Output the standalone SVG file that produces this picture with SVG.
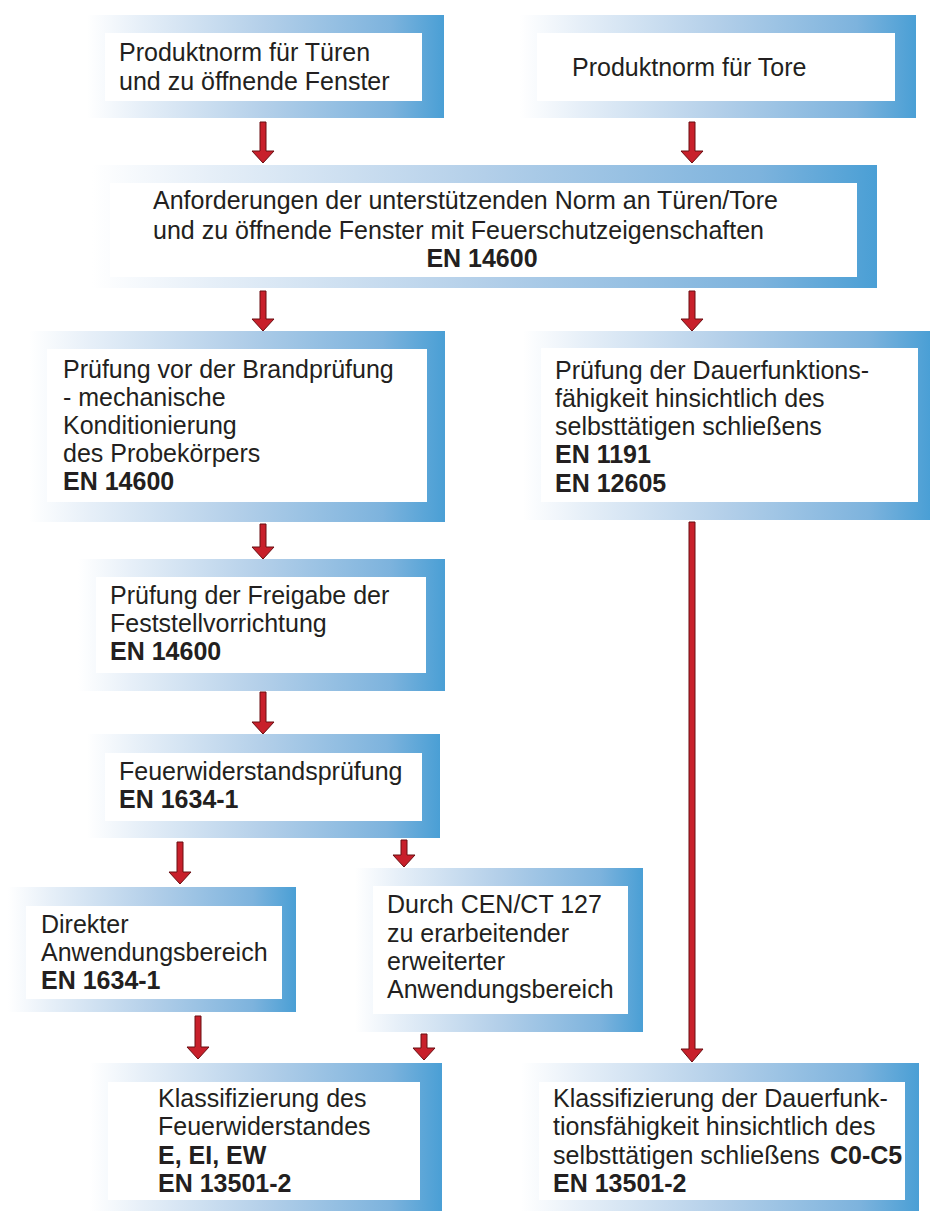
<svg xmlns="http://www.w3.org/2000/svg" width="930" height="1211" viewBox="0 0 930 1211">
<defs>
<linearGradient id="fr" x1="0" y1="0" x2="1" y2="0">
<stop offset="0" stop-color="#ffffff"/>
<stop offset="0.15" stop-color="#e6eff8"/>
<stop offset="0.5" stop-color="#b3cfe9"/>
<stop offset="0.85" stop-color="#7db3dd"/>
<stop offset="1" stop-color="#4a9fd5"/>
</linearGradient>
</defs>
<style>
.o{fill:url(#fr)}
.i{fill:#ffffff}
text{font-family:"Liberation Sans",Arial,sans-serif;font-size:25px;fill:#231f20}
.b{font-weight:700}
.ar{fill:#c8202b;stroke:#6a0e12;stroke-width:1}
</style>
<rect width="930" height="1211" fill="#ffffff"/>
<g id="n1">
<rect class="o" x="87" y="15" width="357" height="103"/>
<rect class="i" x="105" y="33" width="317" height="68"/>
<text x="119" y="61">Produktnorm für Türen</text>
<text x="119" y="90">und zu öffnende Fenster</text>
</g>
<g id="n2">
<rect class="o" x="520" y="15" width="396" height="103"/>
<rect class="i" x="537" y="33" width="358" height="68"/>
<text x="572" y="76">Produktnorm für Tore</text>
</g>
<g id="n3">
<rect class="o" x="92" y="165" width="785" height="123"/>
<rect class="i" x="110" y="183" width="747" height="94"/>
<text x="153" y="209">Anforderungen der unterstützenden Norm an Türen/Tore</text>
<text x="153" y="239">und zu öffnende Fenster mit Feuerschutzeigenschaften</text>
<text class="b" x="482" y="267" text-anchor="middle">EN 14600</text>
</g>
<g id="n4">
<rect class="o" x="29" y="331" width="416" height="191"/>
<rect class="i" x="47" y="349" width="380" height="153"/>
<text x="63" y="378">Prüfung vor der Brandprüfung</text>
<text x="63" y="406">- mechanische</text>
<text x="63" y="434">Konditionierung</text>
<text x="63" y="462">des Probekörpers</text>
<text class="b" x="63" y="490">EN 14600</text>
</g>
<g id="n5">
<rect class="o" x="523" y="331" width="407" height="189"/>
<rect class="i" x="541" y="348" width="377" height="154"/>
<text x="555" y="379">Prüfung der Dauerfunktions-</text>
<text x="555" y="407">fähigkeit hinsichtlich des</text>
<text x="555" y="435">selbsttätigen schließens</text>
<text class="b" x="555" y="463">EN 1191</text>
<text class="b" x="555" y="492">EN 12605</text>
</g>
<g id="n6">
<rect class="o" x="78" y="559" width="367" height="132"/>
<rect class="i" x="96" y="577" width="330" height="96"/>
<text x="110" y="604">Prüfung der Freigabe der</text>
<text x="110" y="632">Feststellvorrichtung</text>
<text class="b" x="110" y="660">EN 14600</text>
</g>
<g id="n7">
<rect class="o" x="87" y="734" width="353" height="104"/>
<rect class="i" x="105" y="753" width="317" height="68"/>
<text x="119" y="780">Feuerwiderstandsprüfung</text>
<text class="b" x="119" y="808">EN 1634-1</text>
</g>
<g id="n8">
<rect class="o" x="8" y="887" width="288" height="125"/>
<rect class="i" x="26" y="906" width="256" height="93"/>
<text x="41" y="933">Direkter</text>
<text x="41" y="961">Anwendungsbereich</text>
<text class="b" x="41" y="989">EN 1634-1</text>
</g>
<g id="n9">
<rect class="o" x="355" y="868" width="288" height="164"/>
<rect class="i" x="373" y="886" width="255" height="128"/>
<text x="387" y="913">Durch CEN/CT 127</text>
<text x="387" y="942">zu erarbeitender</text>
<text x="387" y="970">erweiterter</text>
<text x="387" y="998">Anwendungsbereich</text>
</g>
<g id="n10">
<rect class="o" x="90" y="1063" width="352" height="148"/>
<rect class="i" x="108" y="1082" width="312" height="118"/>
<text x="158" y="1107">Klassifizierung des</text>
<text x="158" y="1135">Feuerwiderstandes</text>
<text class="b" x="158" y="1164">E, EI, EW</text>
<text class="b" x="158" y="1192">EN 13501-2</text>
</g>
<g id="n11">
<rect class="o" x="521" y="1063" width="398" height="148"/>
<rect class="i" x="539" y="1082" width="366" height="118"/>
<text x="553" y="1107">Klassifizierung der Dauerfunk-</text>
<text x="553" y="1135">tionsfähigkeit hinsichtlich des</text>
<text x="553" y="1164">selbsttätigen schließens <tspan class="b" x="830">C0-C5</tspan></text>
<text class="b" x="553" y="1192">EN 13501-2</text>
</g>
<g id="connectors">
<polygon class="ar" points="260,122 266,122 266,151 274,151 263,163 252,151 260,151"/>
<polygon class="ar" points="689,122 695,122 695,151 703,151 692,163 681,151 689,151"/>
<polygon class="ar" points="260,291 266,291 266,319 274,319 263,331 252,319 260,319"/>
<polygon class="ar" points="689,291 695,291 695,319 703,319 692,331 681,319 689,319"/>
<polygon class="ar" points="260,524 266,524 266,547 274,547 263,559 252,547 260,547"/>
<polygon class="ar" points="260,692 266,692 266,722 274,722 263,734 252,722 260,722"/>
<polygon class="ar" points="177,842 183,842 183,872 191,872 180,884 169,872 177,872"/>
<polygon class="ar" points="401,840 407,840 407,855 415,855 404,867 393,855 401,855"/>
<polygon class="ar" points="195,1016 201,1016 201,1047 209,1047 198,1059 187,1047 195,1047"/>
<polygon class="ar" points="421,1034 427,1034 427,1048 435,1048 424,1060 413,1048 421,1048"/>
<polygon class="ar" points="689,522 695,522 695,1049 703,1049 692,1062 681,1049 689,1049"/>
</g>
</svg>
